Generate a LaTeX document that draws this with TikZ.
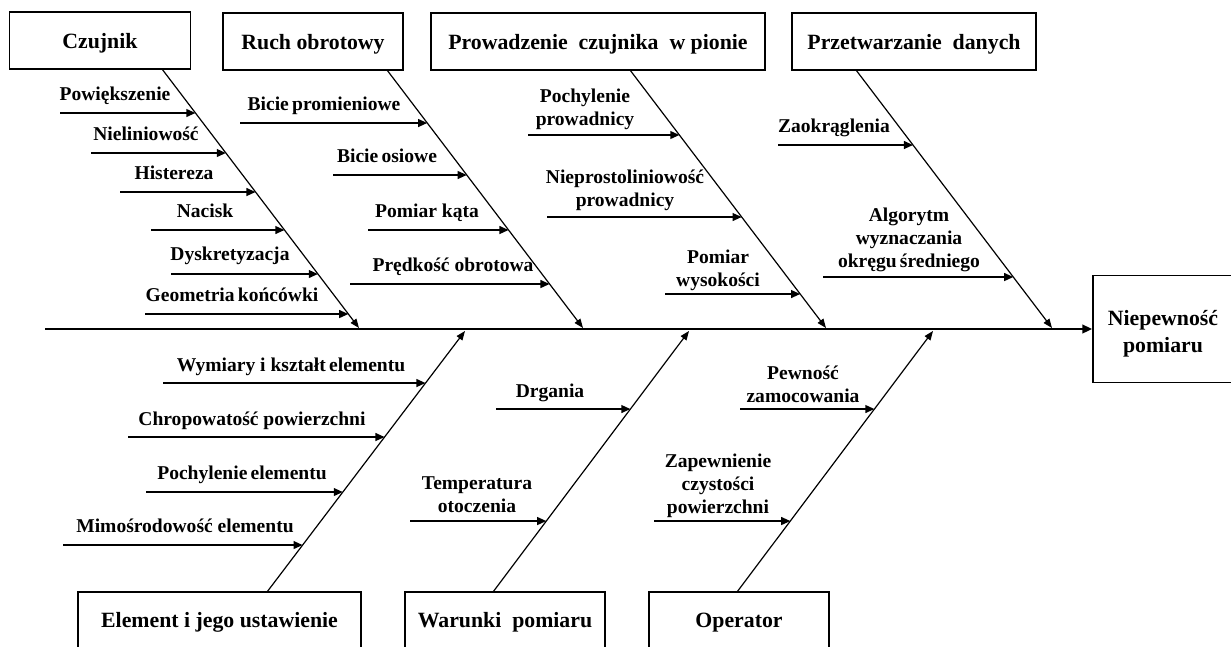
\documentclass[tikz,border=0pt]{standalone}
\usepackage{fontspec}
\setmainfont{Liberation Serif}
\usetikzlibrary{arrows.meta,calc}
\newcommand{\pxu}{0.025cm}
\begin{document}
\begin{tikzpicture}[x=\pxu, y=-\pxu,
  box/.style={draw, line width=1.1pt, inner sep=0pt, align=center,
    font=\fontsize{15.5}{19.2}\selectfont\bfseries},
  head/.style={box, text height=12pt, text depth=1pt},
  cause/.style={font=\fontsize{13.9}{16.4}\selectfont\bfseries, align=center,
    inner sep=0pt, text depth=0pt, anchor=south},
  bone/.style={line width=0.85pt, -{Triangle[length=6.5pt,width=5pt]}},
  twig/.style={line width=1.3pt, -{Triangle[length=6.5pt,width=5.5pt]}},
  spine/.style={line width=2.1pt, -{Triangle[length=7pt,width=6pt]}}]
\useasboundingbox (0,0) rectangle (1231,646);

% category boxes
\node[head, minimum width=181*\pxu, minimum height=57*\pxu] (czujnik) at (100,40.5) {Czujnik};
\node[head, minimum width=180*\pxu, minimum height=57*\pxu] (ruch) at (313,41.5) {Ruch obrotowy};
\node[head, minimum width=334*\pxu, minimum height=57*\pxu] (prow) at (598,41.5) {Prowadzenie\ \ czujnika\ \ w pionie};
\node[head, minimum width=244*\pxu, minimum height=57*\pxu] (przetw) at (914,41.5) {Przetwarzanie\ \ danych};
\node[head, minimum width=283*\pxu, minimum height=56*\pxu] (element) at (219.5,620) {Element i jego ustawienie};
\node[head, minimum width=200*\pxu, minimum height=56*\pxu] (warunki) at (505,620) {Warunki\ \ pomiaru};
\node[head, minimum width=180*\pxu, minimum height=56*\pxu] (operator) at (739,620) {Operator};
\node[box, text height=32.8pt, text depth=0pt, minimum width=140*\pxu, minimum height=107*\pxu] (wynik) at (1163,329) {Niepewność\\pomiaru};

% spine
\coordinate (tail) at (45,329);
\draw[spine] (tail) -- (wynik.west);

% bones
\coordinate (czS) at (162,69);  \coordinate (czT) at (359,328);
\coordinate (ruS) at (387,70);  \coordinate (ruT) at (583,328);
\coordinate (prS) at (630,70);  \coordinate (prT) at (826,328);
\coordinate (pzS) at (856,70);  \coordinate (pzT) at (1052,328);
\coordinate (elS) at (267,592); \coordinate (elT) at (465,331);
\coordinate (waS) at (493,592); \coordinate (waT) at (689,331);
\coordinate (opS) at (737,592); \coordinate (opT) at (933,331);
\foreach \b in {cz,ru,pr,pz,el,wa,op}
  \draw[bone] (\b S) -- (\b T);

% Czujnik
\foreach \y/\xs/\lx/\lb/\txt [count=\i] in {
  113/60/115/101/Powiększenie,
  153/91/146/141/Nieliniowość,
  192/120/174/180/Histereza,
  230/151/205/218/Nacisk,
  274/171/230/261/Dyskretyzacja,
  314/145/232/302/Geometria\,końcówki}{
  \node[cause] (cz\i) at (\lx,\lb) {\txt};
  \coordinate (czA\i) at (\xs,\y);
  \coordinate (czB\i) at (\xs+10,\y);
  \draw[twig] (czA\i) -- (intersection cs: first line={(czA\i)--(czB\i)}, second line={(czS)--(czT)});
}

% Ruch obrotowy
\foreach \y/\xs/\lx/\lb/\txt [count=\i] in {
  123/240/324/111/Bicie\,promieniowe,
  175/333/387/163/Bicie\,osiowe,
  230/368/427/218/Pomiar kąta,
  284/350/453/272/Prędkość obrotowa}{
  \node[cause] (ru\i) at (\lx,\lb) {\txt};
  \coordinate (ruA\i) at (\xs,\y);
  \coordinate (ruB\i) at (\xs+10,\y);
  \draw[twig] (ruA\i) -- (intersection cs: first line={(ruA\i)--(ruB\i)}, second line={(ruS)--(ruT)});
}

% Prowadzenie czujnika w pionie
\foreach \y/\xs/\lx/\lb/\txt [count=\i] in {
  135/528/585/126/{Pochylenie\\prowadnicy},
  217/547/625/207/{Nieprostoliniowość\\prowadnicy},
  294/665/718/287/{Pomiar\\wysokości}}{
  \node[cause] (pr\i) at (\lx,\lb) {\txt};
  \coordinate (prA\i) at (\xs,\y);
  \coordinate (prB\i) at (\xs+10,\y);
  \draw[twig] (prA\i) -- (intersection cs: first line={(prA\i)--(prB\i)}, second line={(prS)--(prT)});
}

% Przetwarzanie danych
\foreach \y/\xs/\lx/\lb/\txt [count=\i] in {
  145/778/834/133/Zaokrąglenia,
  277/823/909/268/{Algorytm\\wyznaczania\\okręgu\,średniego}}{
  \node[cause] (pz\i) at (\lx,\lb) {\txt};
  \coordinate (pzA\i) at (\xs,\y);
  \coordinate (pzB\i) at (\xs+10,\y);
  \draw[twig] (pzA\i) -- (intersection cs: first line={(pzA\i)--(pzB\i)}, second line={(pzS)--(pzT)});
}

% Element i jego ustawienie
\foreach \y/\xs/\lx/\lb/\txt [count=\i] in {
  383/163/291/372/Wymiary i kształt\,elementu,
  437/128/252/426/Chropowatość powierzchni,
  492/146/242/480/Pochylenie\,elementu,
  545/63/185/533/Mimośrodowość elementu}{
  \node[cause] (el\i) at (\lx,\lb) {\txt};
  \coordinate (elA\i) at (\xs,\y);
  \coordinate (elB\i) at (\xs+10,\y);
  \draw[twig] (elA\i) -- (intersection cs: first line={(elA\i)--(elB\i)}, second line={(elS)--(elT)});
}

% Warunki pomiaru
\foreach \y/\xs/\lx/\lb/\txt [count=\i] in {
  409/496/550/398/Drgania,
  521/410/477/513/{Temperatura\\otoczenia}}{
  \node[cause] (wa\i) at (\lx,\lb) {\txt};
  \coordinate (waA\i) at (\xs,\y);
  \coordinate (waB\i) at (\xs+10,\y);
  \draw[twig] (waA\i) -- (intersection cs: first line={(waA\i)--(waB\i)}, second line={(waS)--(waT)});
}

% Operator
\foreach \y/\xs/\lx/\lb/\txt [count=\i] in {
  409/740/803/403/{Pewność\\zamocowania},
  521/654/718/514/{Zapewnienie\\czystości\\powierzchni}}{
  \node[cause] (op\i) at (\lx,\lb) {\txt};
  \coordinate (opA\i) at (\xs,\y);
  \coordinate (opB\i) at (\xs+10,\y);
  \draw[twig] (opA\i) -- (intersection cs: first line={(opA\i)--(opB\i)}, second line={(opS)--(opT)});
}
\end{tikzpicture}
\end{document}
